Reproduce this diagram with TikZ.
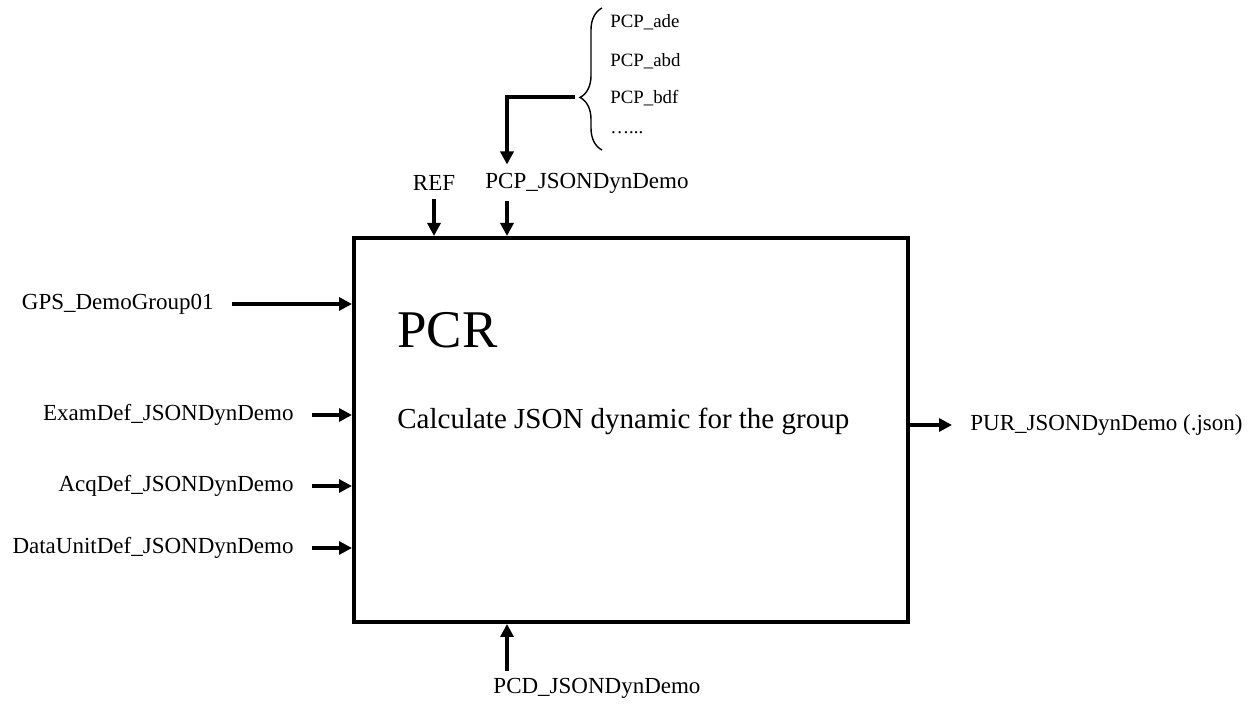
\documentclass[tikz,border=0pt]{standalone}
\usepackage{fontspec}
\setmainfont{Liberation Serif}
\usetikzlibrary{arrows.meta,decorations.pathreplacing}
\tikzset{
  lbl/.style={font=\fontsize{11.5}{13}\selectfont,inner xsep=9pt},
  lst/.style={font=\fontsize{9.4}{11}\selectfont,anchor=west,inner sep=0pt},
  flow/.style={draw,line width=1.6pt,-{Triangle[width=6.5pt,length=6.5pt]}},
  procbox/.style={draw,line width=2pt,minimum width=277pt,minimum height=192pt},
}

\begin{document}
\begin{tikzpicture}[x=0.5pt,y=-0.5pt]
\useasboundingbox (0,0) rectangle (1258,704);

% process box
\node[procbox] (pcr) at (631,430) {};
\node[anchor=base west,inner sep=0pt,font=\fontsize{26.5}{30}\selectfont] (title) at (397,348) {PCR};
\node[anchor=west,inner sep=0pt,font=\fontsize{14.5}{17}\selectfont] (desc) at (397,421) {Calculate JSON dynamic for the group};

% inputs on the left
\node[lbl,anchor=east] (gps) at (232,304) {GPS\_DemoGroup01};
\node[lbl,anchor=east] (exam) at (312,415) {ExamDef\_JSONDynDemo};
\node[lbl,anchor=east] (acq) at (312,486) {AcqDef\_JSONDynDemo};
\node[lbl,anchor=east] (data) at (312,548) {DataUnitDef\_JSONDynDemo};

% controls on top and mechanism below
\node[lbl,inner ysep=4pt] (ref) at (434,183) {REF};
\node[lbl,inner ysep=4pt,anchor=west] (pcp) at (467,183) {PCP\_JSONDynDemo};
\node[lbl] (pcd) at (597,688) {PCD\_JSONDynDemo};
\coordinate (px) at (507,0);

% output
\node[lbl,anchor=west] (pur) at (952,425) {PUR\_JSONDynDemo (.json)};

% list of PCP choices
\node[lst] (ade) at (610,22) {PCP\_ade};
\node[lst] (abd) at (610,61) {PCP\_abd};
\node[lst] (bdf) at (610,98) {PCP\_bdf};
\node[lst] (more) at (610,133) {…...};
\coordinate (tip) at (575,97);

\draw[line width=0.7pt,decorate,decoration={brace,amplitude=11pt,aspect=0.37}]
  (602,150) -- (602,8);

\path
(gps.east) edge[flow] (gps.east -| pcr.west)
(exam.east) edge[flow] (exam.east -| pcr.west)
(acq.east) edge[flow] (acq.east -| pcr.west)
(data.east) edge[flow] (data.east -| pcr.west)
(ref.south) edge[flow] (ref.south |- pcr.north)
(px |- pcp.south) edge[flow] (px |- pcr.north)
(px |- pcd.north) edge[flow] (px |- pcr.south)
(pur.west -| pcr.east) edge[flow] (pur.west);

\draw[flow,line width=2pt] (tip) -| (px |- pcp.north);

\end{tikzpicture}
\end{document}
